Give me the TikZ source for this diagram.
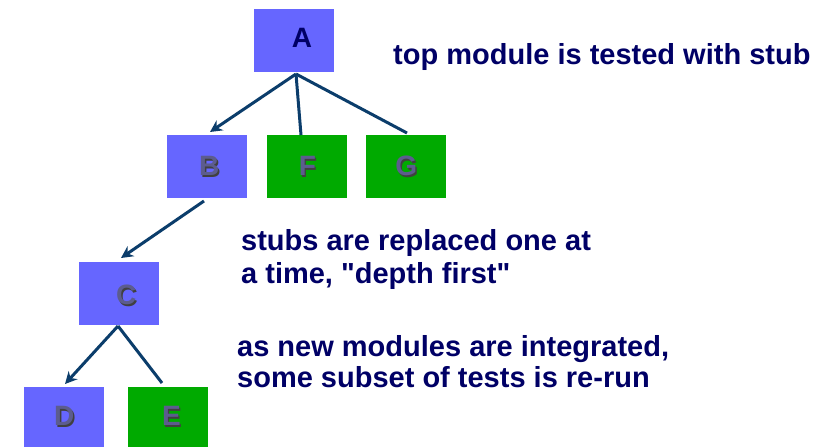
\documentclass[tikz,border=0pt]{standalone}
\usepackage{fontspec}
\setmainfont{Liberation Sans}
\usetikzlibrary{arrows.meta}
\definecolor{modblue}{HTML}{6666FF}
\definecolor{modgreen}{HTML}{00AA00}
\definecolor{wire}{HTML}{0B3D6B}
\definecolor{navy}{HTML}{000066}
\definecolor{lettergrey}{HTML}{5C5C8E}
\tikzset{
  module/.style={minimum width=80pt, minimum height=63pt, inner sep=0pt, outer sep=0pt},
  stubmod/.style={module, fill=modblue},
  donemod/.style={module, fill=modgreen},
  link/.style={draw=wire, line width=3pt},
  linkarrow/.style={link, -{Stealth[length=12pt, width=12pt]}},
  note/.style={anchor=base west, text=navy, font=\fontsize{29}{33}\selectfont\bfseries, inner sep=0pt},
  tag/.style={font=\fontsize{28}{28}\selectfont\bfseries, inner sep=0pt},
}
% letter with a small drop shadow
\newcommand{\shadowed}[1]{\tikz[baseline=(t.base)]{%
  \node[inner sep=0pt, text=black!75] at (1.3pt,-1.3pt) {#1};
  \node[inner sep=0pt, text=lettergrey] (t) at (0,0) {#1};}}
\begin{document}
\begin{tikzpicture}[x=1pt, y=-1pt]
\useasboundingbox (0,0) rectangle (834,447);
\fill[white] (0,0) rectangle (834,447);

% modules
\node[stubmod] (A) at (294,40.5) {};
\node[tag, text=navy] (tA) at (302,38) {A};
\node[stubmod] (B) at (207,166.5) {};
\node[donemod] (F) at (307,166.5) {};
\node[donemod] (G) at (406,166.5) {};
\node[stubmod] (C) at (119,293.5) {};
\node[stubmod, minimum height=60pt] (D) at (64,417) {};
\node[donemod, minimum height=60pt] (E) at (168,417) {};

\foreach \n/\x/\y in {B/210/167, F/308/167, G/407/167, C/127/296, D/65/417, E/172/417}
  \node[tag] (t\n) at (\x,\y) {\shadowed{\n}};

% connectors
\coordinate (a0) at (296,74);
\draw[linkarrow] (a0) -- (210,132);
\draw[link] (a0) -- (301,135);
\draw[link] (a0) -- (407,133);
\draw[linkarrow] (204,201) -- (121,258);
\coordinate (c0) at (118,326);
\draw[linkarrow] (c0) -- (65,384);
\draw[link] (c0) -- (162,383);

% notes
\node[note] (n1) at (393,64) {top module is tested with stub};
\node[note] (n2a) at (241,250) {stubs are replaced one at};
\node[note] (n2b) at (241,283) {a time, \textquotedbl depth first\textquotedbl};
\node[note] (n3a) at (237,356) {as new modules are integrated,};
\node[note] (n3b) at (237,387) {some subset of tests is re-run};
\end{tikzpicture}
\end{document}
